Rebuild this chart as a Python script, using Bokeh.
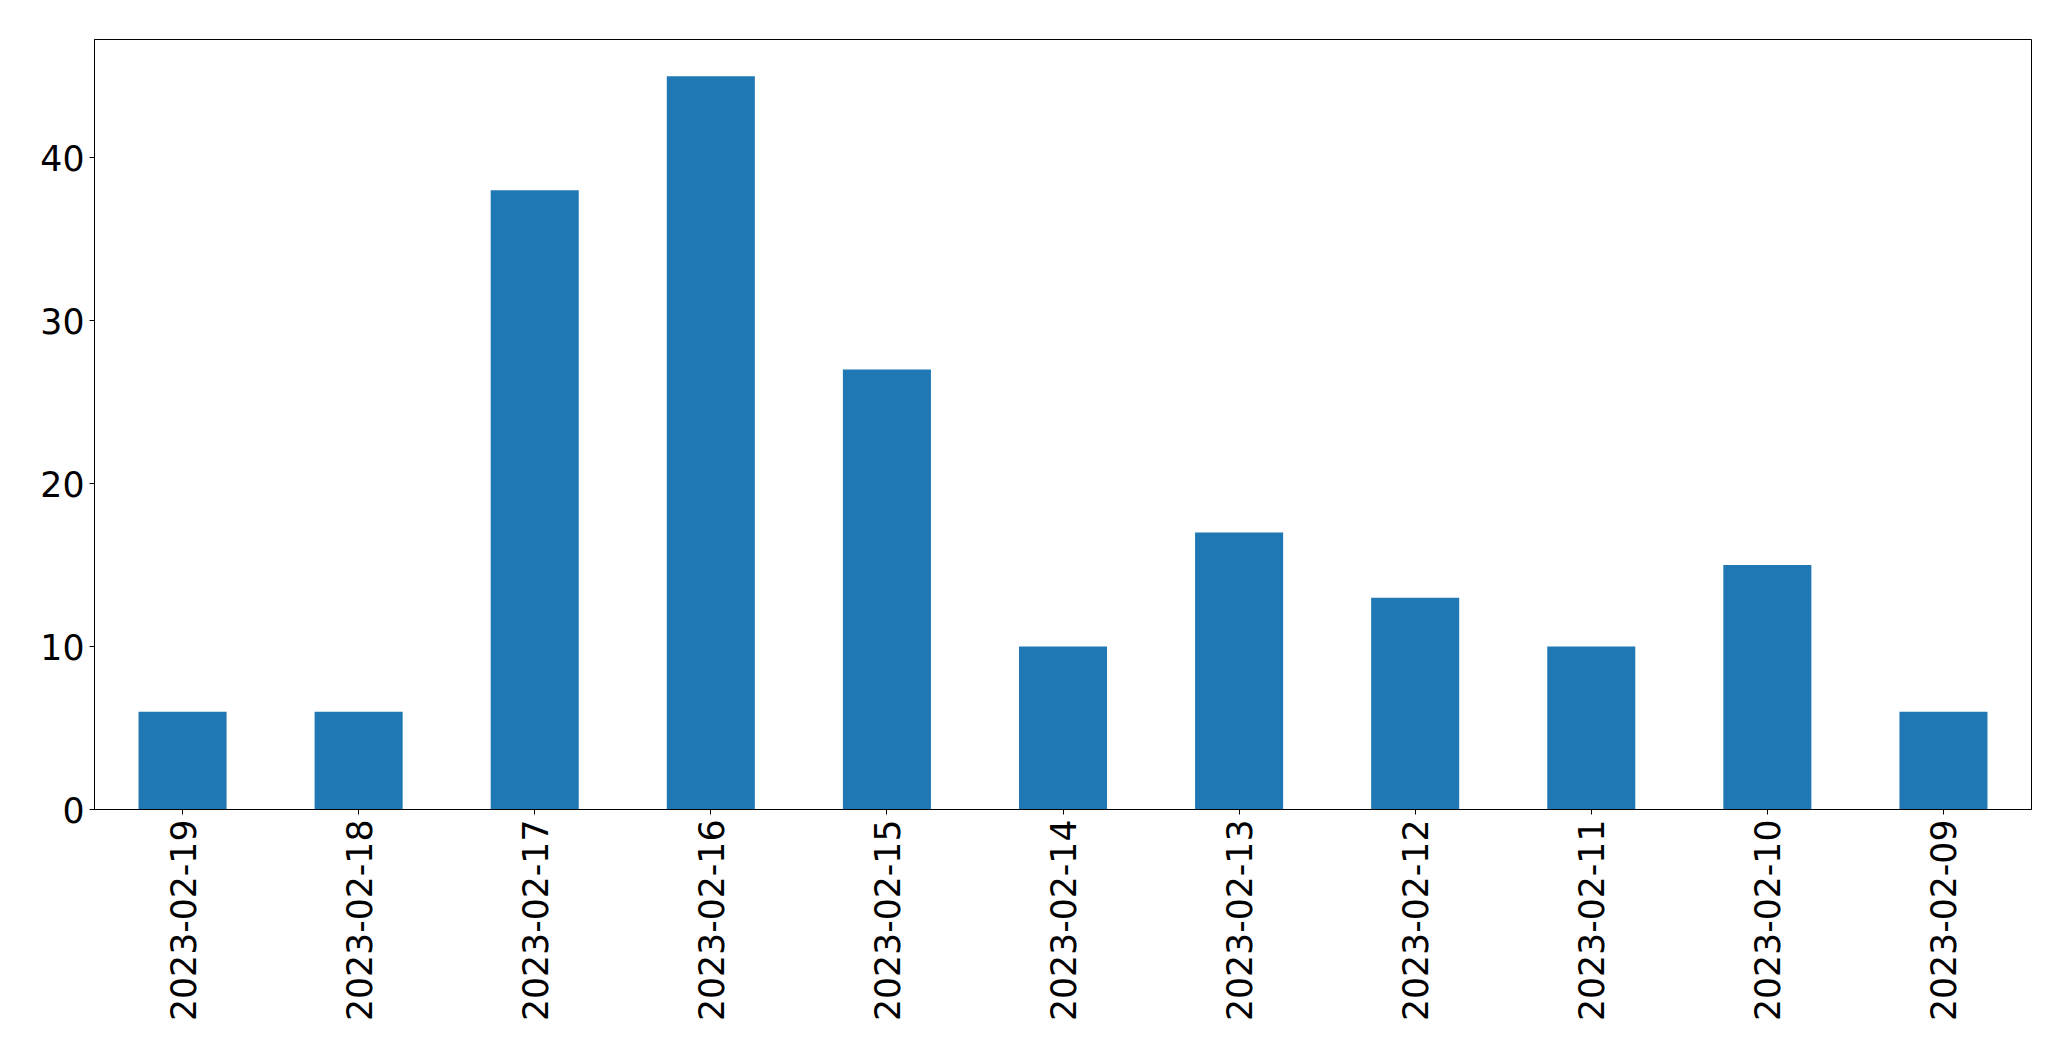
import math
from bokeh.plotting import figure
from bokeh.models import FixedTicker, ColumnDataSource, Range1d
from bokeh.embed import file_html
from bokeh.resources import INLINE

dates = ["2023-02-19", "2023-02-18", "2023-02-17", "2023-02-16", "2023-02-15",
         "2023-02-14", "2023-02-13", "2023-02-12", "2023-02-11", "2023-02-10",
         "2023-02-09"]
counts = [6, 6, 38, 45, 27, 10, 17, 13, 10, 15, 6]
y_ticks = [0, 10, 20, 30, 40]

src = ColumnDataSource(dict(date=dates, count=counts))

p = figure(x_range=dates, y_range=Range1d(0, max(counts) * 1.05),
           width=2055, height=1045, output_backend="svg", toolbar_location=None,
           min_border_left=94, min_border_right=24, min_border_top=39,
           min_border_bottom=236)

p.vbar(x="date", top="count", width=0.5, source=src, color="#1f77b4", line_color=None)

p.xgrid.grid_line_color = None
p.ygrid.grid_line_color = None
p.outline_line_color = "black"
p.outline_line_width = 1
p.outline_line_alpha = 1.0

for ax in (p.xaxis[0], p.yaxis[0]):
    ax.axis_line_color = "black"
    ax.major_tick_line_color = "black"
    ax.major_tick_out = 5
    ax.major_tick_in = 0
    ax.minor_tick_line_color = None
    ax.major_label_text_font = "DejaVu Sans"
    ax.major_label_text_font_size = "34.7px"
    ax.major_label_text_color = "black"
    ax.major_label_standoff = 5

p.yaxis[0].ticker = FixedTicker(ticks=y_ticks)
p.xaxis[0].major_label_orientation = math.pi / 2
p.x_range.range_padding = 0

open("out.html", "w").write(file_html(p, INLINE))
